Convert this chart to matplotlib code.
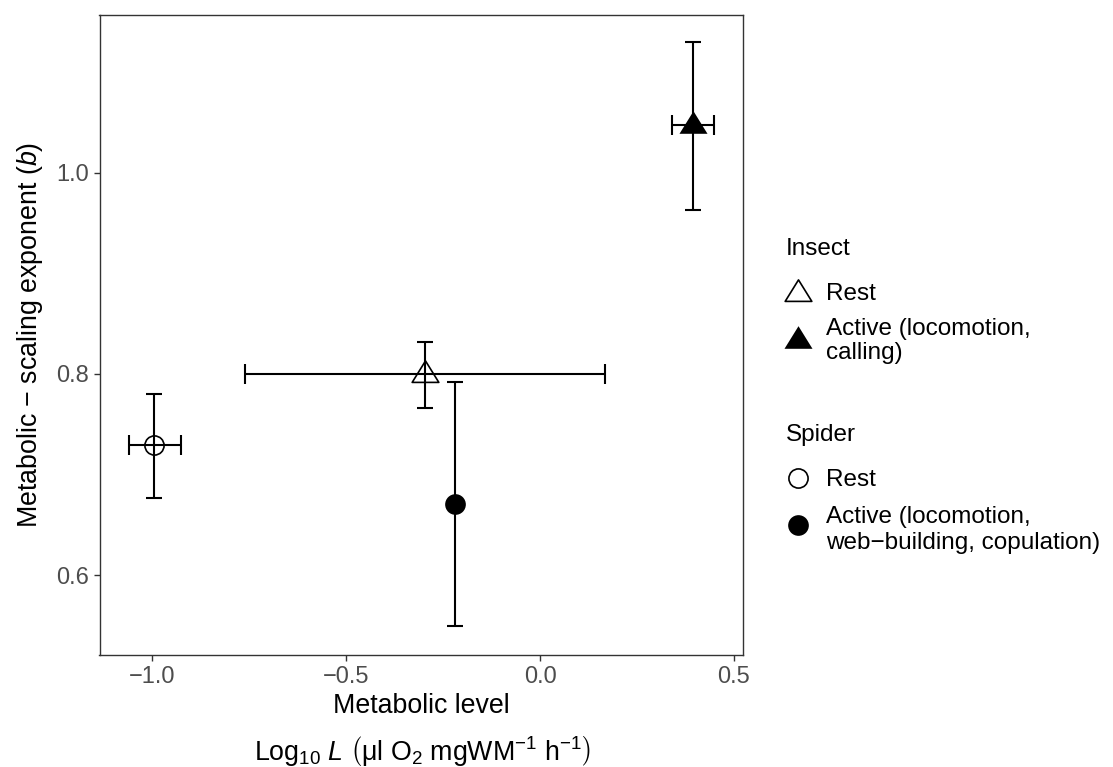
import numpy as np
import matplotlib
matplotlib.use("Agg")
import matplotlib.pyplot as plt
from matplotlib.lines import Line2D
from matplotlib.path import Path

plt.rcParams["font.family"] = ["Liberation Sans", "DejaVu Sans"]
plt.rcParams["mathtext.fontset"] = "custom"
plt.rcParams["mathtext.rm"] = "Liberation Sans"
plt.rcParams["mathtext.it"] = "Liberation Sans:italic"
plt.rcParams["mathtext.bf"] = "Liberation Sans:bold"

# ---- data: metabolic level (log10 L) and scaling exponent b with ranges ----
taxon = ["Insect", "Insect", "Spider", "Spider"]
state = ["Rest", "Active", "Rest", "Active"]
level = [-0.297, 0.394, -0.995, -0.219]
level_lo = [-0.760, 0.340, -1.061, np.nan]
level_hi = [0.167, 0.448, -0.927, np.nan]
exponent = [0.800, 1.047, 0.729, 0.671]
exponent_lo = [0.766, 0.963, 0.677, 0.550]
exponent_hi = [0.832, 1.130, 0.780, 0.792]

x_ticks = [-1.0, -0.5, 0.0, 0.5]
x_tick_labels = ["\u22121.0", "\u22120.5", "0.0", "0.5"]
y_ticks = [0.6, 0.8, 1.0]
y_tick_labels = ["0.6", "0.8", "1.0"]

insect_labels = ["Rest", "Active (locomotion,\ncalling)"]
spider_labels = ["Rest", "Active (locomotion,\nweb\u2212building, copulation)"]

W, H = 1113, 767
fig = plt.figure(figsize=(W / 100, H / 100), dpi=100)
fig.patch.set_facecolor("white")
ax = fig.add_axes([99.5 / W, 1 - 655 / H, (743.5 - 99.5) / W, (655 - 15) / H])

# closed triangle path with its centroid at the anchor point
tri = Path([(-0.979, -0.58), (0.979, -0.58), (0.0, 1.0), (-0.979, -0.58)],
           [Path.MOVETO, Path.LINETO, Path.LINETO, Path.CLOSEPOLY])
INK = "black"


def marker_style(kind, active):
    if kind == "Insect":
        st = dict(marker=tri, markersize=20.6 if active else 19.6)
    else:
        st = dict(marker="o", markersize=14.9 if active else 13.8)
    if active:
        st.update(markerfacecolor=INK, markeredgecolor=INK, markeredgewidth=0)
    else:
        st.update(markerfacecolor="none", markeredgecolor=INK,
                  markeredgewidth=1.2)
    return st


x = np.array(level)
y = np.array(exponent)
xerr = np.vstack([x - np.array(level_lo), np.array(level_hi) - x])
yerr = np.vstack([y - np.array(exponent_lo), np.array(exponent_hi) - y])
has_x = ~np.isnan(np.array(level_lo))

ax.errorbar(x[has_x], y[has_x], xerr=xerr[:, has_x], fmt="none", ecolor=INK,
            elinewidth=1.5, capsize=7.2, capthick=1.5, zorder=2)
ax.errorbar(x, y, yerr=yerr, fmt="none", ecolor=INK,
            elinewidth=1.5, capsize=5.5, capthick=1.5, zorder=2)

for xi, yi, k, s in zip(x, y, taxon, state):
    ax.plot([xi], [yi], linestyle="none", zorder=3,
            **marker_style(k, s == "Active"))

ax.set_xlim(-1.1364, 0.5246)
ax.set_ylim(0.5208, 1.1567)
ax.set_xticks(x_ticks)
ax.set_xticklabels(x_tick_labels)
ax.set_yticks(y_ticks)
ax.set_yticklabels(y_tick_labels)

for sp in ax.spines.values():
    sp.set_color("#333333")
    sp.set_linewidth(1.0)
ax.tick_params(axis="both", direction="out", length=4.1, width=1.0,
               color="#333333", labelcolor="#4D4D4D", labelsize=17, pad=3.5)

ax.set_xlabel("Metabolic level", fontsize=19.3, color="black", labelpad=4)
ax.set_ylabel(r"Metabolic $-$ scaling exponent $(\mathit{b})$",
              fontsize=19.3, color="black", labelpad=8)

fig.text(422 / W, 1 - 760 / H,
         r"$\mathrm{Log}_{10}\ \mathit{L}\ \left(\mathrm{μl\ O_{2}\ mgWM^{-1}\ h^{-1}}\right)$",
         ha="center", va="baseline", fontsize=19.3, color="black")


# ---- legend blocks on the right ----
def fpos(px, py):
    return px / W, 1 - py / H


def legend_block(title, title_base, labels, kind, key_y, label_bases):
    tx, ty = fpos(786, title_base)
    fig.text(tx, ty, title, fontsize=17.5, ha="left", va="baseline")
    for lab, ky, bases, active in zip(labels, key_y, label_bases, [False, True]):
        mx, my = fpos(798, ky)
        fig.add_artist(Line2D([mx], [my], linestyle="none",
                              transform=fig.transFigure,
                              **marker_style(kind, active)))
        for line, b in zip(lab.split("\n"), bases):
            lx, ly = fpos(826, b)
            fig.text(lx, ly, line, fontsize=17.5, ha="left", va="baseline")


legend_block("Insect", 255, insect_labels, "Insect", [292.5, 340],
             [[300], [335, 359]])
legend_block("Spider", 441, spider_labels, "Spider", [478, 525],
             [[486.5], [523.5, 548.5]])

fig.savefig("out.png", dpi=100, facecolor="white")
